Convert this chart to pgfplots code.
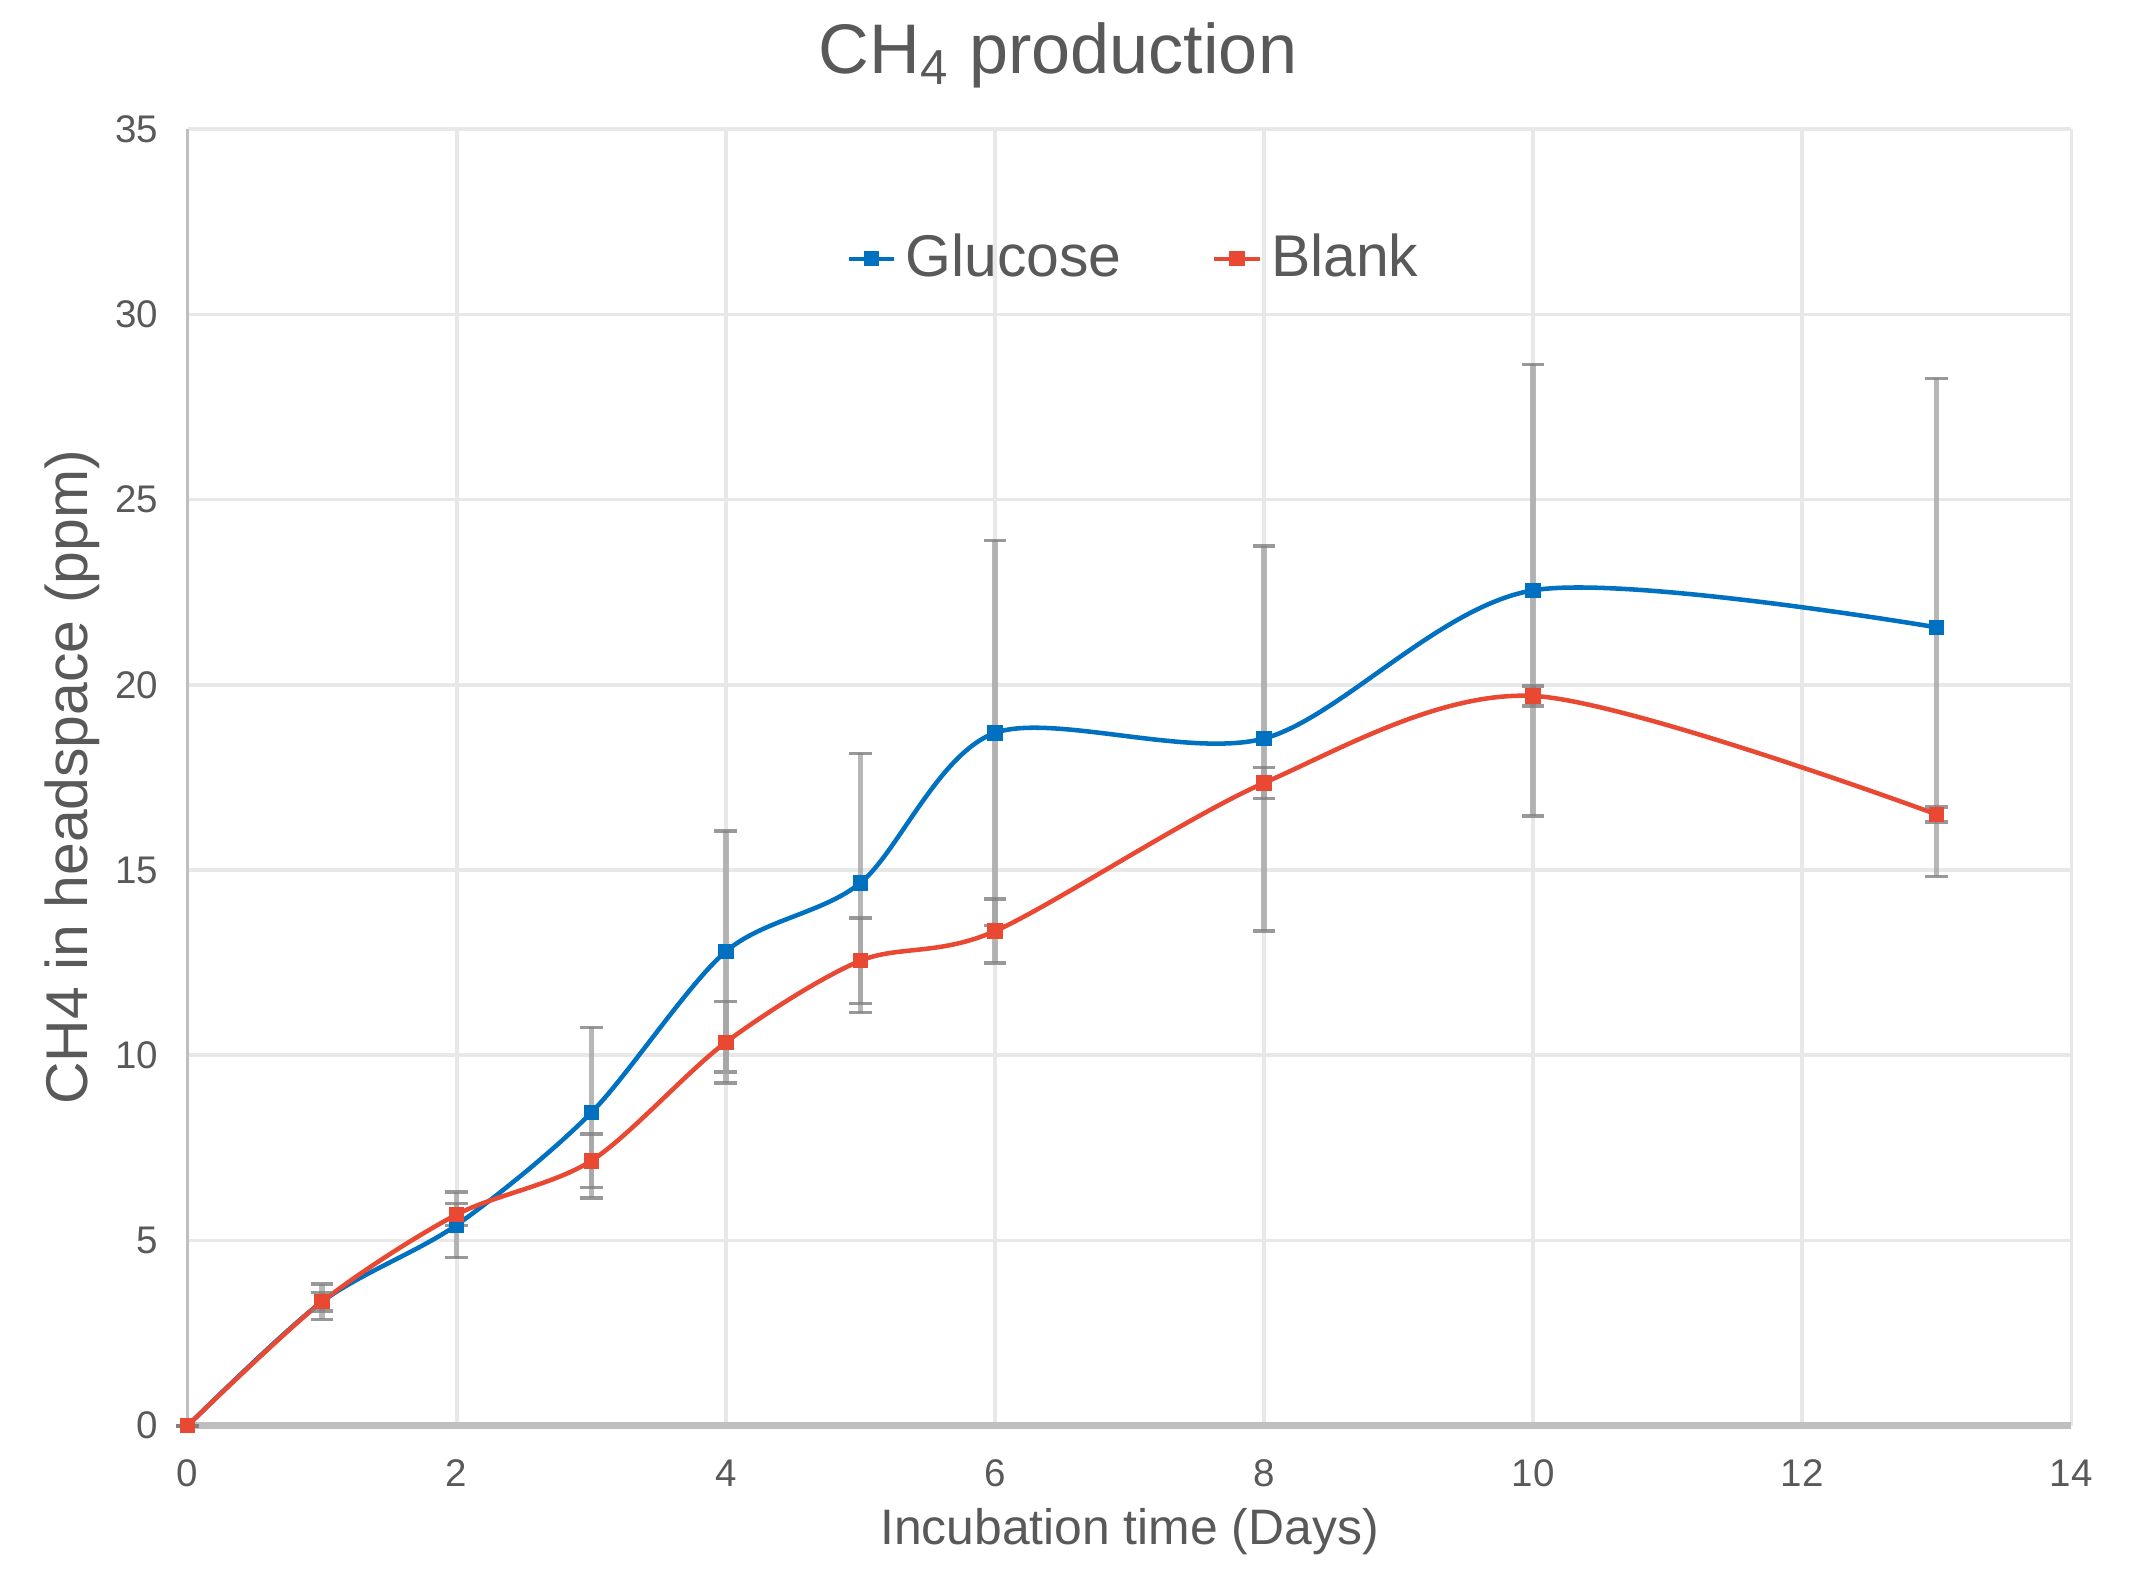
\documentclass[border=0pt]{standalone}
\usepackage{pgfplots}
\pgfplotsset{compat=1.18}
\usepackage{pgfplotstable}
\usepackage{fontspec}
\setmainfont{Liberation Sans}
\definecolor{txt}{RGB}{89,89,89}
\definecolor{gblue}{RGB}{0,112,192}
\definecolor{bred}{RGB}{233,72,50}
\definecolor{gridc}{RGB}{232,232,232}
\definecolor{axc}{RGB}{191,191,191}
\definecolor{errc}{RGB}{165,165,165}

\pgfplotstableread{
x y e
0 0 0
1 3.35 0.48
2 5.42 0.88
3 8.45 2.3
4 12.8 3.25
5 14.65 3.5
6 18.7 5.2
8 18.55 5.2
10 22.55 6.1
13 21.55 6.72
}\glucose
\pgfplotstableread{
x y e
0 0 0
1 3.35 0.25
2 5.70 0.3
3 7.15 0.72
4 10.35 1.1
5 12.55 1.15
6 13.35 0.86
8 17.35 0.42
10 19.7 0.27
13 16.5 0.2
}\blank

\begin{document}
\begin{tikzpicture}
\begin{axis}[
  scale only axis, width=415.8pt, height=286.2pt,
  xmin=0, xmax=14, ymin=0, ymax=35,
  xtick={0,2,...,14}, ytick={0,5,...,35},
  grid=major, major grid style={gridc, line width=0.8pt},
  axis x line*=bottom, axis y line*=left,
  x axis line style={-, axc, line width=1.6pt},
  y axis line style={-, axc, line width=0.8pt},
  major tick length=0pt,
  clip=false,
  /pgf/number format/assume math mode=true,
  tick label style={font=\fontsize{8.5}{10}\selectfont, text=txt},
  yticklabel style={xshift=-3pt},
  xticklabel style={yshift=-4pt},
  title={CH\textsubscript{4} production},
  title style={at={(axis description cs:0.462,1.057)}, anchor=center, yshift=-6pt, inner sep=0pt, font=\fontsize{15.5}{18}\selectfont, text=txt},
  xlabel={Incubation time (Days)},
  ylabel={CH4 in headspace (ppm)},
  xlabel style={at={(axis description cs:0.5,-0.082)}, anchor=center, inner sep=0pt, font=\fontsize{11}{13}\selectfont, text=txt},
  ylabel style={at={(axis description cs:-0.061,0.5)}, anchor=center, inner sep=0pt, font=\fontsize{13}{15}\selectfont, text=txt},
  legend style={at={(axis description cs:0.504,0.90)}, anchor=center, draw=none, fill=none,
    legend columns=2, font=\fontsize{13}{15}\selectfont, text=txt,
    /tikz/every even column/.append style={column sep=18pt}},
  legend image code/.code={\draw[mark repeat=2, mark phase=2, #1] plot coordinates {(0pt,0pt) (5pt,0pt) (10pt,0pt)};},
]
\addplot[gblue, line width=1pt, smooth, mark=square*, mark size=1.2pt, mark options={solid},
  error bars/.cd, y dir=both, y explicit,
  error bar style={errc, line width=1.2pt, opacity=0.8},
  error mark options={rotate=90, mark size=2.5pt, line width=0.8pt, draw=gray}]
  table[x=x, y=y, y error=e]{\glucose};
\addlegendentry{Glucose}
\addplot[bred, line width=1pt, smooth, mark=square*, mark size=1.2pt, mark options={solid},
  error bars/.cd, y dir=both, y explicit,
  error bar style={errc, line width=1.2pt, opacity=0.8},
  error mark options={rotate=90, mark size=2.5pt, line width=0.8pt, draw=gray}]
  table[x=x, y=y, y error=e]{\blank};
\addlegendentry{Blank}
\path (rel axis cs:-0.0996,-0.1101) rectangle (rel axis cs:1.0317,1.0996);
\end{axis}
\end{tikzpicture}
\end{document}
